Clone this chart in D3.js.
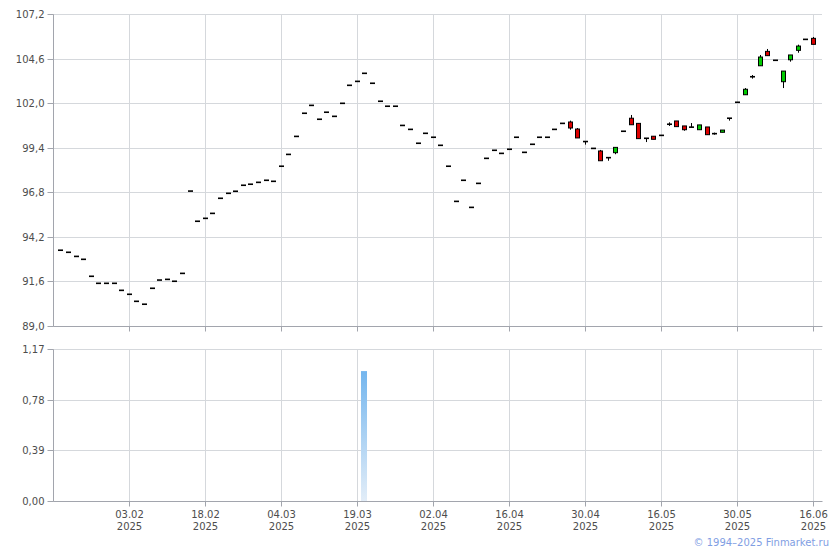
<!DOCTYPE html>
<html><head><meta charset="utf-8">
<script src="https://cdn.jsdelivr.net/npm/d3@7"></script>
<style>html,body{margin:0;padding:0;background:#fff}svg{display:block}</style>
</head><body><svg id="c" width="840" height="550"></svg>
<script>
const dates = ["21.01","22.01","23.01","24.01","27.01","28.01","29.01","30.01","31.01","03.02",
"04.02","05.02","06.02","07.02","11.02","12.02","13.02","14.02","17.02","18.02",
"19.02","20.02","21.02","24.02","25.02","26.02","27.02","28.02","03.03","04.03",
"05.03","06.03","10.03","11.03","12.03","13.03","14.03","17.03","18.03","19.03",
"20.03","21.03","24.03","25.03","26.03","27.03","28.03","31.03","01.04","02.04",
"03.04","04.04","07.04","08.04","09.04","10.04","11.04","14.04","15.04","16.04",
"17.04","18.04","21.04","22.04","23.04","24.04","25.04","28.04","29.04","30.04",
"02.05","05.05","06.05","07.05","08.05","12.05","13.05","14.05","15.05","16.05",
"19.05","20.05","21.05","22.05","23.05","26.05","27.05","28.05","29.05","30.05",
"02.06","03.06","04.06","05.06","06.06","09.06","10.06","11.06","13.06","16.06"];
const openV = [93.42,93.30,93.06,92.89,91.90,91.49,91.49,91.49,91.08,90.85,
90.44,90.27,91.20,91.68,91.72,91.61,92.07,96.87,95.11,95.28,
95.57,96.45,96.74,96.86,97.21,97.27,97.38,97.50,97.44,98.32,
99.01,100.06,101.41,101.87,101.06,101.47,101.23,101.99,103.04,103.27,
103.74,103.16,102.11,101.82,101.82,100.70,100.47,99.66,100.24,100.01,
99.54,98.32,96.27,97.50,95.92,97.32,98.78,99.25,99.07,99.31,
100.01,99.13,99.60,100.01,100.01,100.47,100.82,100.90,100.49,99.76,
99.36,99.21,98.82,99.11,100.36,101.12,100.82,99.95,100.07,100.12,
100.77,100.96,100.67,100.60,100.45,100.61,100.22,100.30,101.12,102.05,
102.49,103.54,104.18,105.02,104.50,103.25,104.53,105.08,105.72,105.78];
const highV = [93.42,93.30,93.06,92.89,91.90,91.49,91.49,91.49,91.08,90.85,
90.44,90.27,91.20,91.68,91.72,91.61,92.07,96.87,95.11,95.28,
95.57,96.45,96.74,96.86,97.21,97.27,97.38,97.50,97.44,98.32,
99.01,100.06,101.41,101.87,101.06,101.47,101.23,101.99,103.04,103.27,
103.74,103.16,102.11,101.82,101.82,100.70,100.47,99.66,100.24,100.01,
99.54,98.32,96.27,97.50,95.92,97.32,98.78,99.25,99.07,99.31,
100.01,99.13,99.60,100.01,100.01,100.47,100.82,100.98,100.55,99.76,
99.36,99.27,98.82,99.42,100.36,101.31,100.82,99.95,100.07,100.12,
100.88,100.96,100.67,100.84,100.73,100.61,100.28,100.43,101.12,102.05,
102.88,103.64,104.81,105.16,104.50,103.87,104.81,105.41,105.72,105.86];
const lowV = [93.42,93.30,93.06,92.89,91.90,91.49,91.49,91.49,91.08,90.85,
90.44,90.27,91.20,91.68,91.72,91.61,92.07,96.87,95.11,95.28,
95.57,96.45,96.74,96.86,97.21,97.27,97.38,97.50,97.44,98.32,
99.01,100.06,101.41,101.87,101.06,101.47,101.23,101.99,103.04,103.27,
103.74,103.16,102.11,101.82,101.82,100.70,100.47,99.66,100.24,100.01,
99.54,98.32,96.27,97.50,95.92,97.32,98.78,99.25,99.07,99.31,
100.01,99.13,99.60,100.01,100.01,100.47,100.82,100.45,99.97,99.58,
99.36,98.64,98.64,99.02,100.36,100.74,99.93,99.73,99.89,100.12,
100.67,100.63,100.39,100.60,100.45,100.16,100.16,100.30,100.98,102.05,
102.49,103.43,104.18,104.77,104.50,102.88,104.42,104.94,105.72,105.43];
const closeV = [93.42,93.30,93.06,92.89,91.90,91.49,91.49,91.49,91.08,90.85,
90.44,90.27,91.20,91.68,91.72,91.61,92.07,96.87,95.11,95.28,
95.57,96.45,96.74,96.86,97.21,97.27,97.38,97.50,97.44,98.32,
99.01,100.06,101.41,101.87,101.06,101.47,101.23,101.99,103.04,103.27,
103.74,103.16,102.11,101.82,101.82,100.70,100.47,99.66,100.24,100.01,
99.54,98.32,96.27,97.50,95.92,97.32,98.78,99.25,99.07,99.31,
100.01,99.13,99.60,100.01,100.01,100.47,100.82,100.55,99.97,99.76,
99.36,98.64,98.82,99.42,100.36,100.74,99.93,99.95,99.89,100.12,
100.77,100.63,100.45,100.60,100.73,100.16,100.22,100.43,101.12,102.05,
102.81,103.54,104.69,104.77,104.50,103.87,104.81,105.33,105.72,105.43];
const volumeV = dates.map((d, i) => d === "20.03" ? 1.0 : 0);
const priceTicks = [89.0, 91.6, 94.2, 96.8, 99.4, 102.0, 104.6, 107.2];
const volTicks = [0, 0.39, 0.78, 1.17];
const dateTicks = ["03.02","18.02","04.03","19.03","02.04","16.04","30.04","16.05","30.05","16.06"];
const yearLabel = "2025";

const svg = d3.select("#c");
const L = 53, R = 822;
const font = "DejaVu Sans, Verdana, sans-serif";
const gridC = "#d5d8dc", axisC = "#a2a5ad", textC = "#4d4d4d";

const x = d3.scalePoint().domain(dates).range([60.3, 813]);
const y = d3.scaleLinear().domain([89.0, 107.2]).range([326, 14]);
const yv = d3.scaleLinear().domain([0, 1.17]).range([501, 349]);
const fmt1 = v => d3.format(".1f")(v).replace(".", ",");
const fmt2 = v => d3.format(".2f")(v).replace(".", ",");

function panel(ys, ticks, fmt, top, bottom) {
  const g = svg.append("g");
  // horizontal grid
  g.selectAll("line.h").data(ticks).join("line")
    .attr("x1", L).attr("x2", R)
    .attr("y1", d => Math.round(ys(d)) + 0.5).attr("y2", d => Math.round(ys(d)) + 0.5)
    .attr("stroke", gridC);
  // vertical grid
  g.selectAll("line.v").data(dateTicks).join("line")
    .attr("x1", d => Math.round(x(d)) + 0.5).attr("x2", d => Math.round(x(d)) + 0.5)
    .attr("y1", top).attr("y2", bottom)
    .attr("stroke", gridC);
  // y axis
  const ax = svg.append("g").attr("transform", `translate(${L + 0.5},0.5)`)
    .call(d3.axisLeft(ys).tickValues(ticks).tickFormat(fmt).tickSize(6).tickPadding(3));
  ax.select(".domain").attr("stroke", axisC).attr("d", `M0,${top}V${bottom}`);
  ax.selectAll(".tick line").attr("stroke", axisC);
  ax.selectAll(".tick text").attr("fill", textC).style("font-family", font).style("font-size", "10px");
  ax.selectAll(".tick").attr("transform", d => `translate(0,${Math.round(ys(d))})`);
  // x axis line
  const xa = svg.append("g").attr("transform", `translate(0.5,${bottom + 0.5})`)
    .call(d3.axisBottom(x).tickValues(dateTicks).tickSize(5).tickFormat(""));
  xa.select(".domain").attr("stroke", axisC).attr("d", `M${L},0H${R}`);
  xa.selectAll(".tick line").attr("stroke", axisC);
  xa.selectAll(".tick").attr("transform", d => `translate(${Math.round(x(d))},0)`);
  return xa;
}

panel(y, priceTicks, fmt1, 14, 326);
const xa2 = panel(yv, volTicks, fmt2, 349, 501);

// date labels
const lab = svg.append("g").style("font-family", font).style("font-size", "10px").attr("fill", textC);
lab.selectAll("text.d").data(dateTicks).join("text")
  .attr("x", d => Math.round(x(d)) + 0.5).attr("y", 518).attr("text-anchor", "middle").text(d => d);
lab.selectAll("text.yr").data(dateTicks).join("text")
  .attr("x", d => Math.round(x(d)) + 0.5).attr("y", 530).attr("text-anchor", "middle").text(yearLabel);

// volume bars
const defs = svg.append("defs");
const gr = defs.append("linearGradient").attr("id", "vg").attr("x1", 0).attr("y1", 0).attr("x2", 0).attr("y2", 1);
gr.append("stop").attr("offset", "0%").attr("stop-color", "#74b6ee");
gr.append("stop").attr("offset", "100%").attr("stop-color", "#e2edf8");
svg.append("g").selectAll("rect").data(dates.map((d, i) => ({d, v: volumeV[i]})).filter(o => o.v > 0)).join("rect")
  .attr("x", o => Math.round(x(o.d)) - 3).attr("width", 6)
  .attr("y", o => yv(o.v)).attr("height", o => yv(0) - yv(o.v))
  .attr("fill", "url(#vg)");

// candles
const data = dates.map((d, i) => ({d, o: openV[i], h: highV[i], l: lowV[i], c: closeV[i]}));
const cg = svg.append("g");
data.forEach(k => {
  const cx = Math.round(x(k.d));
  if (k.h > k.l) {
    cg.append("line").attr("x1", cx + 0.5).attr("x2", cx + 0.5)
      .attr("y1", y(k.h)).attr("y2", y(k.l)).attr("stroke", "#000").attr("stroke-width", 1);
  }
  if (Math.abs(k.o - k.c) < 0.001) {
    cg.append("rect").attr("x", cx - 2).attr("width", 5)
      .attr("y", y(k.o) - 0.8).attr("height", 1.6).attr("fill", "#000");
  } else {
    const t = y(Math.max(k.o, k.c)), b = y(Math.min(k.o, k.c));
    cg.append("rect").attr("x", cx - 1.5).attr("width", 4)
      .attr("y", t).attr("height", Math.max(1, b - t))
      .attr("fill", k.c > k.o ? "#00cc00" : "#dd0000")
      .attr("stroke", "#000").attr("stroke-width", 1);
  }
});

svg.append("text").attr("x", 829).attr("y", 546).attr("text-anchor", "end")
  .style("font-family", font).style("font-size", "10px").attr("fill", "#7f9ee3")
  .text("© 1994–2025 Finmarket.ru");
</script></body></html>
